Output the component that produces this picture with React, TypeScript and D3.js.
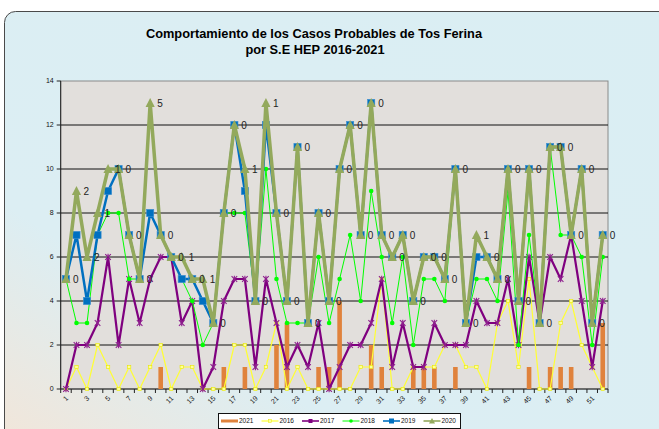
import React from "react";
import * as d3 from "d3";

const weeks: number[] = Array.from({ length: 52 }, (_, i) => i + 1);

// 2021 (columns)
const s2021 = [0,0,0,0,0,0,0,0,0,1, 0,0,0,0,0,1,0,1,0,0, 2,3,0,0,1,1,4,0,0,2, 1,0,0,1,1,1,0,1,0,0, 0,0,0,0,1,0,1,1,1,0, 0,3];
// stacked line series
const s2016 = [0,1,0,2,1,0,1,0,1,2, 0,1,1,0,0,0,2,2,0,1, 3,0,1,0,0,0,0,0,1,1, 5,0,0,1,1,1,2,2,1,1, 0,3,4,1,5,0,0,3,4,2, 1,0];
const s2017 = [0,1,2,1,5,2,4,3,4,4, 6,2,3,0,1,4,3,3,1,4, 0,1,1,1,3,0,1,2,1,2, 0,1,3,0,0,2,0,0,1,3, 3,0,1,1,1,3,6,2,3,2, 0,4];
const s2018 = [5,1,1,4,2,6,0,2,3,1, 0,2,0,2,2,4,3,3,3,5, 2,2,1,2,3,3,4,5,2,6, 1,2,3,1,4,2,2,8,1,1, 2,1,4,0,1,0,5,2,0,2, 1,2];
const s2019 = [0,4,1,0,1,2,2,0,0,0, 0,0,1,2,0,0,4,1,0,2, 3,1,8,0,2,1,5,5,3,4, 1,3,1,2,1,1,1,0,0,1, 1,1,1,2,3,0,0,4,0,4, 1,1];
const s2020 = [0,2,2,1,1,0,0,0,5,0, 0,1,0,1,0,0,0,1,0,1, 0,0,0,0,0,0,0,0,0,0, 0,0,0,0,0,0,0,0,0,1, 0,0,0,0,0,0,0,0,0,0, 0,0];

const yTicks = [0, 2, 4, 6, 8, 10, 12, 14];
const xTickLabels = weeks.filter((w) => w % 2 === 1);
const seriesKeys = ["2016", "2017", "2018", "2019", "2020"];
const legendKeys = ["2021", "2016", "2017", "2018", "2019", "2020"];

const W = 659, H = 429;
const PL = 60.7, PR = 608, PT = 81, PB = 389;

const colors: Record<string, string> = {
  "2021": "#E0823C",
  "2016": "#FFFF33",
  "2017": "#7F007F",
  "2018": "#00FF00",
  "2019": "#0070C0",
  "2020": "#93A95C",
};
const widths: Record<string, number> = {
  "2016": 1.2, "2017": 2.2, "2018": 1, "2019": 2.5, "2020": 3.5,
};

function Marker({ k, x, y }: { k: string; x: number; y: number }) {
  if (k === "2016") return <rect x={x - 1.7} y={y - 1.7} width={3.4} height={3.4} fill="#FFFF99" stroke="#E8E800" strokeWidth={0.6} />;
  if (k === "2017") return <path d={`M${x-2.8},${y-2.8}L${x+2.8},${y+2.8}M${x-2.8},${y+2.8}L${x+2.8},${y-2.8}M${x},${y-3.2}L${x},${y+3.2}`} stroke="#8E1F8E" strokeWidth={1.1} fill="none" />;
  if (k === "2018") return <circle cx={x} cy={y} r={2.3} fill="#00FF00" />;
  if (k === "2019") return <rect x={x - 3.6} y={y - 3.6} width={7.2} height={7.2} fill="#0070C0" stroke="#3C8FD0" strokeWidth={0.6} />;
  if (k === "2020") return <path d={`M${x},${y-5}L${x+4.6},${y+4}L${x-4.6},${y+4}Z`} fill="#93A95C" />;
  return null;
}

export default function App() {
  const x = d3.scaleBand<number>().domain(weeks).range([PL, PR]).padding(0);
  const y = d3.scaleLinear().domain([0, 14]).range([PB, PT]);
  const cx = (w: number) => (x(w) as number) + x.bandwidth() / 2;

  const table = weeks.map((w, i) => ({
    week: w,
    "2016": s2016[i], "2017": s2017[i], "2018": s2018[i], "2019": s2019[i], "2020": s2020[i],
  }));
  const stacked = d3.stack<any>().keys(seriesKeys)(table);

  const line = d3.line<[number, number]>().x((d) => d[0]).y((d) => d[1]);
  const barW = 4.6;

  return (
    <svg width={W} height={H} style={{ position: "absolute", left: 0, top: 0 }} fontFamily="Liberation Sans, Arial, sans-serif">
      <defs>
        <linearGradient id="bg" x1="1" y1="0" x2="0" y2="1">
          <stop offset="0" stopColor="#DAEEF3" />
          <stop offset="0.7" stopColor="#DCEEF3" />
          <stop offset="1" stopColor="#F6E4D4" />
        </linearGradient>
      </defs>
      <rect x={0} y={0} width={W} height={H} fill="#FFFFFF" />
      <rect x={4.5} y={11.5} width={720} height={480} rx={11} fill="url(#bg)" stroke="#4A4A4A" strokeWidth={1} />

      <text x={314} y={38} textAnchor="middle" fontSize={12.8} fontWeight="bold" fill="#000">Comportamiento de los Casos Probables de Tos Ferina</text>
      <text x={315} y={54} textAnchor="middle" fontSize={12.8} fontWeight="bold" fill="#000">por S.E HEP 2016-2021</text>

      {/* plot area */}
      <rect x={PL} y={PT} width={PR - PL} height={PB - PT} fill="#E2DFDC" stroke="#8A8A8A" strokeWidth={1} />
      {yTicks.filter((t) => t > 0 && t < 14).map((t) => (
        <line key={t} x1={PL} x2={PR} y1={y(t)} y2={y(t)} stroke="#111" strokeWidth={1} />
      ))}

      {/* y axis */}
      <line x1={PL} x2={PL} y1={PT} y2={PB} stroke="#222" strokeWidth={1} />
      {yTicks.map((t) => (
        <g key={t}>
          <line x1={PL - 4} x2={PL} y1={y(t)} y2={y(t)} stroke="#222" />
          <text x={PL - 7} y={y(t)} dy="0.35em" textAnchor="end" fontSize={7} fill="#111">{t}</text>
        </g>
      ))}

      {/* x axis */}
      <line x1={PL} x2={PR} y1={PB} y2={PB} stroke="#222" strokeWidth={1} />
      {[...weeks, 53].map((w) => {
        const xx = PL + (w - 1) * x.bandwidth();
        return <line key={w} x1={xx} x2={xx} y1={PB} y2={PB + 4} stroke="#222" />;
      })}
      {xTickLabels.map((w) => (
        <text key={w} transform={`translate(${cx(w) + 1},${PB + 8}) rotate(-45)`} textAnchor="end" dy="0.35em" fontSize={7} fill="#111">{w}</text>
      ))}

      {/* 2021 bars */}
      {weeks.map((w, i) => s2021[i] > 0 ? (
        <rect key={w} x={cx(w) - barW / 2} y={y(s2021[i])} width={barW} height={y(0) - y(s2021[i])} fill={colors["2021"]} />
      ) : null)}

      {/* stacked lines */}
      {stacked.map((s) => {
        const k = s.key;
        const pts: [number, number][] = s.map((d, i) => [cx(weeks[i]), y(d[1])]);
        return (
          <g key={k}>
            <path d={line(pts) || ""} fill="none" stroke={colors[k]} strokeWidth={widths[k]} strokeLinejoin="round" />
            {pts.map((p, i) => <Marker key={i} k={k} x={p[0]} y={p[1]} />)}
          </g>
        );
      })}

      {/* data labels (2020) */}
      {stacked[4].map((d, i) => (
        <text key={i} x={cx(weeks[i]) + 7} y={y(d[1])} dy="0.36em" fontSize={10} fill="#222">{s2020[i]}</text>
      ))}

      {/* legend */}
      <rect x={218.5} y={413.5} width={242} height={15} fill="#FFFFFF" stroke="#111" strokeWidth={1} />
      {legendKeys.map((k, i) => {
        const x0 = 221 + i * 40.5;
        const ly = 421;
        return (
          <g key={k}>
            <line x1={x0} x2={x0 + 17} y1={ly} y2={ly} stroke={colors[k]} strokeWidth={k === "2021" ? 3 : Math.min(widths[k], 1.6)} />
            {k !== "2021" ? (
              k === "2016" ? <rect x={x0 + 7} y={ly - 1.5} width={3} height={3} fill="#FFFF99" stroke="#E8E800" strokeWidth={0.5} /> :
              k === "2017" ? <rect x={x0 + 6.5} y={ly - 2} width={4} height={4} fill="#7F007F" /> :
              k === "2018" ? <circle cx={x0 + 8.5} cy={ly} r={1.8} fill="#00FF00" /> :
              k === "2019" ? <rect x={x0 + 6} y={ly - 2.5} width={5} height={5} fill="#0070C0" /> :
              <path d={`M${x0 + 8.5},${ly - 3}L${x0 + 11.5},${ly + 2.5}L${x0 + 5.5},${ly + 2.5}Z`} fill="#93A95C" />
            ) : null}
            <text x={x0 + 18} y={ly} dy="0.35em" fontSize={6.5} fill="#111">{k}</text>
          </g>
        );
      })}
    </svg>
  );
}
